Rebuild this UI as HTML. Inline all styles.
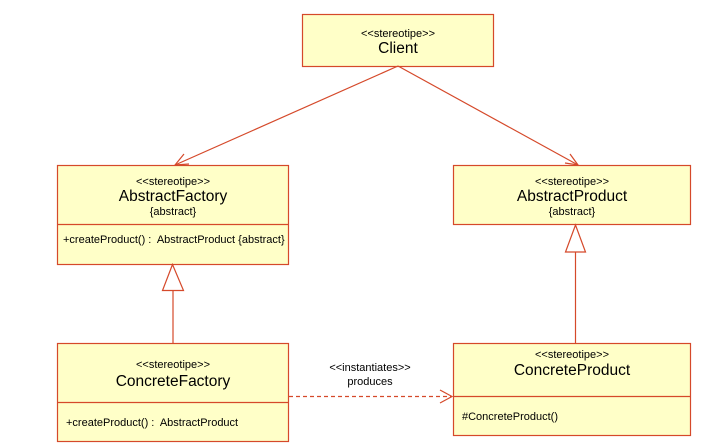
<!DOCTYPE html>
<html><head><meta charset="utf-8"><style>
body{margin:0;background:#fff;}
svg{display:block;font-family:"Liberation Sans",Arial,sans-serif;}
text{white-space:pre;}
</style></head><body>
<svg width="703" height="444" viewBox="0 0 703 444">
<g fill="#ffffc8" stroke="#d5492a" stroke-width="1.2">
<rect x="302.5" y="14.5" width="191" height="52"/>
<rect x="57.5" y="165.5" width="231" height="99"/>
<line x1="57.5" y1="224.5" x2="288.5" y2="224.5"/>
<rect x="453.5" y="165.5" width="237" height="59"/>
<rect x="57.5" y="343.5" width="231" height="98"/>
<line x1="57.5" y1="402.5" x2="288.5" y2="402.5"/>
<rect x="453.5" y="343.5" width="237" height="92"/>
<line x1="453.5" y1="396.5" x2="690.5" y2="396.5"/>
</g>
<g fill="none" stroke="#d5492a" stroke-width="1.2">
<line x1="398" y1="66" x2="175" y2="165"/>
<polyline points="184,154 175,165 189,164"/>
<line x1="398" y1="66" x2="578" y2="165"/>
<polyline points="565,163 578,165 570,154"/>
<line x1="173" y1="290" x2="173" y2="343"/>
<polygon points="172.5,264.5 162.5,290.5 183.5,290.5" fill="#fff"/>
<line x1="575.5" y1="252" x2="575.5" y2="343"/>
<polygon points="575.5,225 565.5,252 585.5,252" fill="#fff"/>
<line x1="289" y1="396.5" x2="452" y2="396.5" stroke-dasharray="4,3"/>
<polyline points="440,390 452,396.5 440,403"/>
</g>
<g fill="#000" text-anchor="middle">
<text x="398" y="37" font-size="11">&lt;&lt;stereotipe&gt;&gt;</text>
<text x="398" y="53" font-size="15.5">Client</text>
<text x="173" y="185" font-size="11">&lt;&lt;stereotipe&gt;&gt;</text>
<text x="173" y="201" font-size="15.5">AbstractFactory</text>
<text x="173" y="215" font-size="11">{abstract}</text>
<text x="572" y="185" font-size="11">&lt;&lt;stereotipe&gt;&gt;</text>
<text x="572" y="201" font-size="15.5">AbstractProduct</text>
<text x="572" y="215" font-size="11">{abstract}</text>
<text x="173" y="368" font-size="11">&lt;&lt;stereotipe&gt;&gt;</text>
<text x="173" y="386" font-size="15.5">ConcreteFactory</text>
<text x="572" y="358" font-size="11">&lt;&lt;stereotipe&gt;&gt;</text>
<text x="572" y="375" font-size="15.5">ConcreteProduct</text>
<text x="370" y="371" font-size="11">&lt;&lt;instantiates&gt;&gt;</text>
<text x="370" y="385" font-size="11">produces</text>
</g>
<g fill="#000" font-size="11">
<text x="63" y="243">+createProduct() :  AbstractProduct {abstract}</text>
<text x="66" y="426">+createProduct() :  AbstractProduct</text>
<text x="462" y="420">#ConcreteProduct()</text>
</g>
</svg>
</body></html>
